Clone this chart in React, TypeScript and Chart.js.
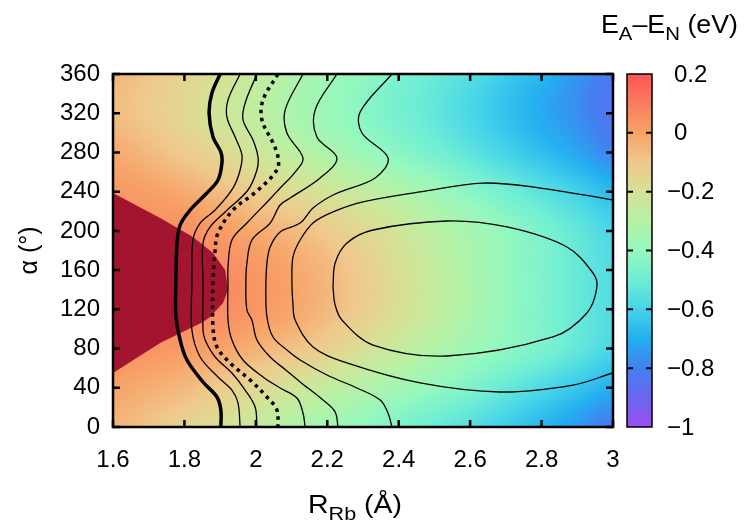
import React, { useEffect, useRef } from 'react';
import { Chart, registerables } from 'chart.js';

Chart.register(...registerables);

const FONT = '"Liberation Sans", Arial, Helvetica, sans-serif';

// ---- energy field E_A - E_N (eV) ----
const rGrid = [1.6, 1.7, 1.8, 1.9, 2.0, 2.1, 2.2, 2.3, 2.4, 2.5, 2.6, 2.7, 2.8, 2.9, 3.0];
const alphaGrid = [0, 40, 80, 120, 160, 200, 240, 280, 320, 360];
const eAlpha0 = [-0.05, -0.09, -0.14, -0.19, -0.25, -0.31, -0.36, -0.41, -0.46, -0.51, -0.56, -0.62, -0.68, -0.75, -0.82];
const eAlpha40 = [0.0, -0.03, -0.06, -0.11, -0.16, -0.21, -0.26, -0.31, -0.36, -0.41, -0.46, -0.52, -0.58, -0.64, -0.70];
const eAlpha80 = [0.05, 0.04, 0.02, 0.0, -0.04, -0.08, -0.13, -0.19, -0.25, -0.31, -0.37, -0.42, -0.47, -0.53, -0.59];
const eAlpha120 = [0.08, 0.07, 0.07, 0.06, 0.03, -0.01, -0.06, -0.12, -0.19, -0.26, -0.33, -0.4, -0.46, -0.52, -0.57];
const eAlpha160 = [0.08, 0.07, 0.07, 0.06, 0.03, -0.01, -0.06, -0.12, -0.19, -0.26, -0.33, -0.4, -0.46, -0.52, -0.57];
const eAlpha200 = [0.05, 0.05, 0.05, 0.02, -0.02, -0.06, -0.11, -0.16, -0.22, -0.29, -0.35, -0.41, -0.47, -0.53, -0.59];
const eAlpha240 = [0.03, 0.01, -0.02, -0.07, -0.12, -0.17, -0.21, -0.26, -0.31, -0.37, -0.43, -0.49, -0.55, -0.61, -0.67];
const eAlpha280 = [-0.02, -0.06, -0.11, -0.16, -0.22, -0.28, -0.33, -0.38, -0.43, -0.48, -0.54, -0.6, -0.66, -0.72, -0.79];
const eAlpha320 = [-0.07, -0.11, -0.16, -0.22, -0.27, -0.33, -0.38, -0.43, -0.48, -0.53, -0.59, -0.65, -0.71, -0.77, -0.84];
const eAlpha360 = [-0.05, -0.09, -0.14, -0.19, -0.25, -0.31, -0.36, -0.41, -0.46, -0.51, -0.56, -0.62, -0.68, -0.75, -0.82];
const energyRows = [eAlpha0, eAlpha40, eAlpha80, eAlpha120, eAlpha160, eAlpha200, eAlpha240, eAlpha280, eAlpha320, eAlpha360];

// ---- colour palette ----
const cbStops = [-1.0, -0.9, -0.8, -0.7, -0.6, -0.5, -0.4, -0.3, -0.2, -0.1, 0.0, 0.1, 0.2];
const cbColors = [
  [154, 80, 240], [108, 102, 240], [66, 128, 240], [35, 176, 240], [70, 212, 232],
  [112, 238, 212], [150, 248, 190], [182, 242, 165], [214, 226, 150], [240, 200, 140],
  [247, 163, 104], [250, 125, 95], [255, 85, 85],
];
const cbTicks = [0.2, 0, -0.2, -0.4, -0.6, -0.8, -1];
const cbTickLabels = ['0.2', '0', '\u22120.2', '\u22120.4', '\u22120.6', '\u22120.8', '\u22121'];

// ---- axes ----
const xTicks = [1.6, 1.8, 2.0, 2.2, 2.4, 2.6, 2.8, 3.0];
const xTickLabels = ['1.6', '1.8', '2', '2.2', '2.4', '2.6', '2.8', '3'];
const yTicks = [0, 40, 80, 120, 160, 200, 240, 280, 320, 360];
const yTickLabels = ['0', '40', '80', '120', '160', '200', '240', '280', '320', '360'];

// ---- dark red region ----
const regionR = [1.6, 1.732, 1.824, 1.88, 1.914, 1.922, 1.908, 1.872, 1.852, 1.732, 1.6];
const regionA = [238.6, 213.1, 193.7, 177.4, 160.1, 139.7, 126.5, 112.2, 107.1, 85.7, 55.1];

// ---- contour lines ----
const thickR = [1.9, 1.877, 1.869, 1.88, 1.902, 1.905, 1.894, 1.86, 1.816, 1.788, 1.779, 1.776, 1.776, 1.788, 1.807, 1.852, 1.891, 1.902, 1.902];
const thickA = [360, 340.6, 320.2, 295.7, 280.4, 269.2, 251.9, 237.6, 221.3, 206, 185.6, 146.9, 114.2, 88.7, 68.3, 45.9, 30.6, 17.3, 0];
const c2R = [1.956, 1.922, 1.919, 1.942, 1.961, 1.956, 1.936, 1.886, 1.844, 1.824, 1.821, 1.821, 1.844, 1.894, 1.933, 1.95, 1.956];
const c2A = [360, 333.5, 316.1, 295.7, 277.4, 262.1, 243.7, 221.3, 208, 190.7, 146.9, 98.9, 71.4, 51, 37.7, 24.5, 0];
const c3R = [2.003, 1.97, 1.964, 1.992, 2.006, 2.003, 1.978, 1.914, 1.872, 1.852, 1.852, 1.852, 1.858, 1.886, 1.933, 1.97, 1.998, 2.003];
const c3A = [360, 330.4, 313.1, 292.7, 275.3, 262.1, 241.7, 219.3, 204, 187.6, 146.9, 98.9, 88.7, 71.4, 55.1, 37.7, 20.4, 0];
const dottedR = [2.062, 2.02, 2.017, 2.048, 2.062, 2.059, 2.0, 1.936, 1.894, 1.886, 1.88, 1.88, 1.891, 1.928, 1.984, 2.031, 2.059, 2.062];
const dottedA = [360, 333.5, 313.1, 289.6, 275.3, 262.1, 239.7, 221.3, 197.8, 180.5, 146.9, 102, 81.6, 65.3, 47.9, 30.6, 17.3, 0];
const c5R = [2.132, 2.082, 2.087, 2.132, 2.11, 2.068, 2.045, 1.975, 1.933, 1.922, 1.922, 1.922, 1.933, 1.964, 2.02, 2.068, 2.115, 2.132, 2.138];
const c5A = [360, 323.3, 299.8, 274.3, 260, 243.7, 234.6, 208, 190.7, 163.2, 146.9, 109.1, 88.7, 68.3, 51, 39.8, 29.6, 14.3, 0];
const c6R = [2.227, 2.166, 2.171, 2.227, 2.18, 2.096, 2.068, 2.04, 1.989, 1.975, 1.972, 1.975, 1.989, 2.003, 2.04, 2.084, 2.124, 2.188, 2.222, 2.23];
const c6A = [360, 323.3, 295.7, 274.3, 253.9, 233.5, 226.4, 208, 190.7, 167.2, 146.9, 119.3, 109.1, 88.7, 71.4, 58.1, 45.9, 27.5, 15.3, 0];
const c7R = [2.381, 2.292, 2.297, 2.37, 2.334, 2.222, 2.16, 2.124, 2.068, 2.04, 2.031, 2.028, 2.031, 2.048, 2.087, 2.124, 2.199, 2.283, 2.348, 2.37, 2.381];
const c7A = [360, 321.2, 299.8, 274.3, 253.9, 237.6, 223.3, 208, 198.9, 183.6, 167.2, 139.7, 112.2, 91.8, 78.5, 68.3, 53, 39.8, 27.5, 14.3, 0];
const outerR = [3.0, 2.796, 2.636, 2.46, 2.3, 2.216, 2.16, 2.124, 2.104, 2.101, 2.104, 2.11, 2.16, 2.255, 2.46, 2.684, 2.888, 3.0];
const outerA = [231.5, 243.7, 248.8, 239.7, 229.5, 219.3, 208, 190.7, 173.4, 146.9, 124.4, 109.1, 81.6, 65.3, 44.9, 35.7, 42.8, 55.1];
const innerR = [2.216, 2.222, 2.255, 2.328, 2.535, 2.703, 2.871, 2.944, 2.955, 2.927, 2.832, 2.535, 2.328, 2.241, 2.222, 2.216];
const innerA = [142.8, 167.2, 187.6, 200.9, 210.1, 204, 183.6, 157, 142.8, 116.3, 91.8, 72.4, 83.6, 109.1, 124.4, 142.8];

const contourLines = [
  { r: thickR, a: thickA, width: 3.5, dash: [] as number[] },
  { r: c2R, a: c2A, width: 1.3, dash: [] as number[] },
  { r: c3R, a: c3A, width: 1.3, dash: [] as number[] },
  { r: dottedR, a: dottedA, width: 3.5, dash: [3.5, 4.5] },
  { r: c5R, a: c5A, width: 1.3, dash: [] as number[] },
  { r: c6R, a: c6A, width: 1.3, dash: [] as number[] },
  { r: c7R, a: c7A, width: 1.3, dash: [] as number[] },
  { r: outerR, a: outerA, width: 1.3, dash: [] as number[] },
  { r: innerR, a: innerA, width: 1.3, dash: [] as number[] },
];

function cr(p0: number, p1: number, p2: number, p3: number, t: number) {
  return 0.5 * (2 * p1 + (-p0 + p2) * t + (2 * p0 - 5 * p1 + 4 * p2 - p3) * t * t + (-p0 + 3 * p1 - 3 * p2 + p3) * t * t * t);
}

function sampleEnergy(r: number, a: number) {
  const dr = rGrid[1] - rGrid[0];
  const da = alphaGrid[1] - alphaGrid[0];
  const nR = rGrid.length;
  const nA = alphaGrid.length - 1;
  const fr = (r - rGrid[0]) / dr;
  const i = Math.min(nR - 2, Math.max(0, Math.floor(fr)));
  const tr = fr - i;
  const fa = (a - alphaGrid[0]) / da;
  const j = Math.floor(fa);
  const ta = fa - j;
  const val = (jj: number, ii: number) => energyRows[((jj % nA) + nA) % nA][Math.max(0, Math.min(nR - 1, ii))];
  const rowVal = (jj: number) => cr(val(jj, i - 1), val(jj, i), val(jj, i + 1), val(jj, i + 2), tr);
  return cr(rowVal(j - 1), rowVal(j), rowVal(j + 1), rowVal(j + 2), ta);
}

function colorFor(v: number) {
  const lo = cbStops[0], hi = cbStops[cbStops.length - 1];
  const x = Math.max(lo, Math.min(hi, v));
  let k = 0;
  while (k < cbStops.length - 2 && x > cbStops[k + 1]) k++;
  const t = (x - cbStops[k]) / (cbStops[k + 1] - cbStops[k]);
  const c0 = cbColors[k], c1 = cbColors[k + 1];
  return [c0[0] + (c1[0] - c0[0]) * t, c0[1] + (c1[1] - c0[1]) * t, c0[2] + (c1[2] - c0[2]) * t];
}

function drawParts(ctx: CanvasRenderingContext2D, x: number, baseline: number, parts: { text: string; size: number; dy: number }[], targetWidth: number) {
  ctx.save();
  let total = 0;
  for (const p of parts) {
    ctx.font = `${p.size}px ${FONT}`;
    total += ctx.measureText(p.text).width;
  }
  const sx = targetWidth / total;
  ctx.translate(x, baseline);
  ctx.scale(sx, 1);
  ctx.fillStyle = '#000';
  ctx.textBaseline = 'alphabetic';
  ctx.textAlign = 'left';
  let cx = 0;
  for (const p of parts) {
    ctx.font = `${p.size}px ${FONT}`;
    ctx.fillText(p.text, cx, p.dy);
    cx += ctx.measureText(p.text).width;
  }
  ctx.restore();
}

const REGION_INDEX = contourLines.length;

const mapPlugin = {
  id: 'mapPlugin',
  beforeDatasetsDraw(chart: any) {
    const { ctx, chartArea } = chart;
    const { left, top, right, bottom } = chartArea;
    const xs = chart.scales.x, ys = chart.scales.y;
    const w = Math.round(right - left), h = Math.round(bottom - top);
    const off = document.createElement('canvas');
    off.width = w; off.height = h;
    const octx = off.getContext('2d')!;
    const img = octx.createImageData(w, h);
    for (let j = 0; j < h; j++) {
      const a = ys.getValueForPixel(top + j + 0.5);
      for (let i = 0; i < w; i++) {
        const r = xs.getValueForPixel(left + i + 0.5);
        const c = colorFor(sampleEnergy(r, a));
        const k = (j * w + i) * 4;
        img.data[k] = c[0]; img.data[k + 1] = c[1]; img.data[k + 2] = c[2]; img.data[k + 3] = 255;
      }
    }
    octx.putImageData(img, 0, 0);
    ctx.drawImage(off, left, top);
    // dark red region
    const meta = chart.getDatasetMeta(REGION_INDEX);
    ctx.save();
    ctx.beginPath();
    meta.data.forEach((p: any, i: number) => (i ? ctx.lineTo(p.x, p.y) : ctx.moveTo(p.x, p.y)));
    ctx.closePath();
    ctx.fillStyle = '#a3152f';
    ctx.fill();
    ctx.restore();
  },
  afterDatasetsDraw(chart: any) {
    const { ctx, chartArea } = chart;
    const { left, top, right, bottom } = chartArea;
    const xs = chart.scales.x, ys = chart.scales.y;
    ctx.save();
    ctx.strokeStyle = '#000';
    ctx.lineWidth = 2.5;
    ctx.beginPath();
    xTicks.forEach((v) => {
      const px = xs.getPixelForValue(v);
      ctx.moveTo(px, bottom); ctx.lineTo(px, bottom - 7);
      ctx.moveTo(px, top); ctx.lineTo(px, top + 7);
    });
    yTicks.forEach((v) => {
      const py = ys.getPixelForValue(v);
      ctx.moveTo(left, py); ctx.lineTo(left + 7, py);
      ctx.moveTo(right, py); ctx.lineTo(right - 7, py);
    });
    ctx.stroke();
    ctx.strokeRect(left, top, right - left, bottom - top);
    ctx.restore();
  },
  afterDraw(chart: any) {
    const { ctx, chartArea } = chart;
    const { right, top, bottom } = chartArea;
    // colour bar
    const cbL = right + 14, cbR = right + 39;
    const cbMax = cbStops[cbStops.length - 1], cbMin = cbStops[0];
    const hgt = bottom - top;
    for (let y = Math.floor(top); y < bottom; y++) {
      const v = cbMax - ((y + 0.5 - top) / hgt) * (cbMax - cbMin);
      const c = colorFor(v);
      ctx.fillStyle = `rgb(${c[0] | 0},${c[1] | 0},${c[2] | 0})`;
      ctx.fillRect(cbL, y, cbR - cbL, 1);
    }
    ctx.save();
    ctx.strokeStyle = '#000';
    ctx.lineWidth = 2;
    ctx.beginPath();
    cbTicks.forEach((v) => {
      if (v === cbMax || v === cbMin) return;
      const yy = top + ((cbMax - v) / (cbMax - cbMin)) * hgt;
      ctx.moveTo(cbL, yy); ctx.lineTo(cbL + 6, yy);
      ctx.moveTo(cbR, yy); ctx.lineTo(cbR - 6, yy);
    });
    ctx.stroke();
    ctx.lineWidth = 1.5;
    ctx.strokeRect(cbL, top, cbR - cbL, hgt);
    ctx.fillStyle = '#000';
    ctx.font = `24px ${FONT}`;
    ctx.textBaseline = 'middle';
    ctx.textAlign = 'left';
    cbTicks.forEach((v, i) => {
      const yy = top + ((cbMax - v) / (cbMax - cbMin)) * hgt;
      ctx.fillText(cbTickLabels[i], v >= 0 ? cbR + 22 : cbR + 15, yy + 1);
    });
    // y title
    ctx.save();
    ctx.translate(30, (top + bottom) / 2);
    ctx.rotate(-Math.PI / 2);
    ctx.textAlign = 'center';
    ctx.textBaseline = 'middle';
    ctx.font = `25px ${FONT}`;
    ctx.fillText('\u03b1 (\u00b0)', 0, 0);
    ctx.restore();
    ctx.restore();
    // x title
    drawParts(ctx, 308, 513, [
      { text: 'R', size: 25, dy: 0 },
      { text: 'Rb', size: 19, dy: 7 },
      { text: ' (\u00c5)', size: 25, dy: 0 },
    ], 94);
    // colour bar title
    drawParts(ctx, 601, 33, [
      { text: 'E', size: 25, dy: 0 },
      { text: 'A', size: 19, dy: 7 },
      { text: '\u2013', size: 25, dy: 0 },
      { text: 'E', size: 25, dy: 0 },
      { text: 'N', size: 19, dy: 7 },
      { text: ' (eV)', size: 25, dy: 0 },
    ], 137);
  },
};

export default function App() {
  const ref = useRef<HTMLCanvasElement>(null);
  useEffect(() => {
    document.body.style.margin = '0';
    const canvas = ref.current!;
    const datasets: any[] = contourLines.map((c) => ({
      data: c.r.map((r, i) => ({ x: r, y: c.a[i] })),
      showLine: true,
      borderColor: '#000',
      borderWidth: c.width,
      borderDash: c.dash,
      borderCapStyle: 'butt',
      pointRadius: 0,
      tension: 0.35,
      fill: false,
    }));
    datasets.push({
      data: regionR.map((r, i) => ({ x: r, y: regionA[i] })),
      showLine: false,
      pointRadius: 0,
      borderWidth: 0,
    });
    const tickFont = { family: FONT, size: 24 };
    const chart = new Chart(canvas, {
      type: 'scatter',
      data: { datasets },
      options: {
        responsive: false,
        animation: false,
        devicePixelRatio: 1,
        events: [],
        layout: { padding: { left: 0, top: 74, right: 137, bottom: 0 } },
        plugins: { legend: { display: false }, tooltip: { enabled: false } },
        scales: {
          x: {
            type: 'linear',
            min: xTicks[0],
            max: xTicks[xTicks.length - 1],
            grid: { display: false, drawTicks: false },
            border: { display: false },
            afterBuildTicks: (s: any) => { s.ticks = xTicks.map((v) => ({ value: v })); },
            ticks: {
              font: tickFont,
              color: '#000',
              padding: 19,
              maxRotation: 0,
              autoSkip: false,
              callback: (v: any) => xTickLabels[xTicks.findIndex((t) => Math.abs(t - v) < 1e-6)],
            },
            afterFit: (s: any) => { s.height = 98; },
          },
          y: {
            type: 'linear',
            min: yTicks[0],
            max: yTicks[yTicks.length - 1],
            grid: { display: false, drawTicks: false },
            border: { display: false },
            afterBuildTicks: (s: any) => { s.ticks = yTicks.map((v) => ({ value: v })); },
            ticks: {
              font: tickFont,
              color: '#000',
              padding: 13,
              autoSkip: false,
              callback: (v: any) => yTickLabels[yTicks.findIndex((t) => Math.abs(t - v) < 1e-6)],
            },
            afterFit: (s: any) => { s.width = 113; },
          },
        },
      },
      plugins: [mapPlugin],
    } as any);
    return () => chart.destroy();
  }, []);
  return (
    <div style={{ width: 750, height: 525 }}>
      <canvas ref={ref} width={750} height={525} style={{ display: 'block' }} />
    </div>
  );
}
